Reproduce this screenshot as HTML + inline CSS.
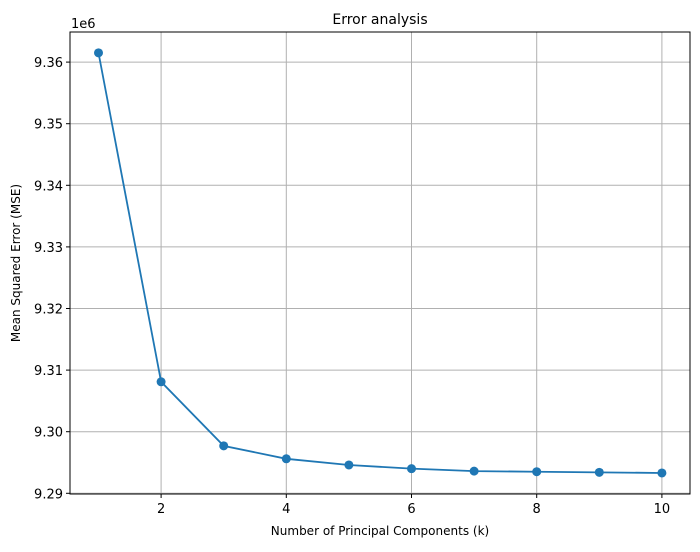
<!DOCTYPE html>
<html><head><meta charset="utf-8"><style>
body{margin:0;background:#fff;font-family:"Liberation Sans","DejaVu Sans",sans-serif;}
svg text{font-family:"DejaVu Sans","Liberation Sans",sans-serif;fill:#000;}
</style></head><body>
<svg id="chart" width="700" height="547" xmlns="http://www.w3.org/2000/svg">
<rect width="700" height="547" fill="#fff"/>
<g id="grid"></g><g id="axes"></g><g id="series"></g>
<text x="380" y="24" font-size="14" text-anchor="middle">Error analysis</text>
<text x="380" y="535" font-size="12" text-anchor="middle">Number of Principal Components (k)</text>
<text transform="translate(20,263) rotate(-90)" font-size="12" text-anchor="middle">Mean Squared Error (MSE)</text>
<text x="71" y="28" font-size="13">1e6</text>
</svg>
<script>
const kValues=[1,2,3,4,5,6,7,8,9,10];
const mseValues=[9.3615,9.3081,9.2977,9.2956,9.2946,9.2940,9.2936,9.2935,9.2934,9.2933];
const xTicks=[2,4,6,8,10];
const yTicks=[9.29,9.30,9.31,9.32,9.33,9.34,9.35,9.36];
const L=70,R=690,T=32,B=494;
const xs=k=>98.5+(k-1)*62.6;
const ys=v=>493.3-(v-9.29)/0.01*61.6;
const NS='http://www.w3.org/2000/svg';
function mk(tag,attrs,parent){const e=document.createElementNS(NS,tag);for(const a in attrs)e.setAttribute(a,attrs[a]);document.getElementById(parent).appendChild(e);return e;}
xTicks.forEach(t=>{const x=xs(t);
let g=mk('line',{x1:x,x2:x,y1:T,y2:B,stroke:'#b0b0b0','stroke-width':1},'grid');


let tk=mk('line',{x1:x,x2:x,y1:B,y2:B+4,stroke:'#000','stroke-width':1},'axes');


let tx=mk('text',{x:x,y:B+19,'font-size':13,'text-anchor':'middle'},'axes');tx.textContent=t;

});
yTicks.forEach(t=>{const y=ys(t);
let g=mk('line',{x1:L,x2:R,y1:y,y2:y,stroke:'#b0b0b0','stroke-width':1},'grid');


let tk=mk('line',{x1:L-4,x2:L,y1:y,y2:y,stroke:'#000','stroke-width':1},'axes');


let tx=mk('text',{x:L-7,y:y+5,'font-size':13,'text-anchor':'end'},'axes');tx.textContent=t.toFixed(2);

});
let fr=mk('rect',{x:L,y:T,width:R-L,height:B-T,fill:'none',stroke:'#000','stroke-width':1},'axes');


let pl=mk('polyline',{points:kValues.map((k,i)=>xs(k)+','+ys(mseValues[i])).join(' '),fill:'none',stroke:'#1f77b4','stroke-width':1.8},'series');


kValues.forEach((k,i)=>{let c=mk('circle',{cx:xs(k),cy:ys(mseValues[i]),r:4.5,fill:'#1f77b4'},'series');

});
</script>
</body></html>
